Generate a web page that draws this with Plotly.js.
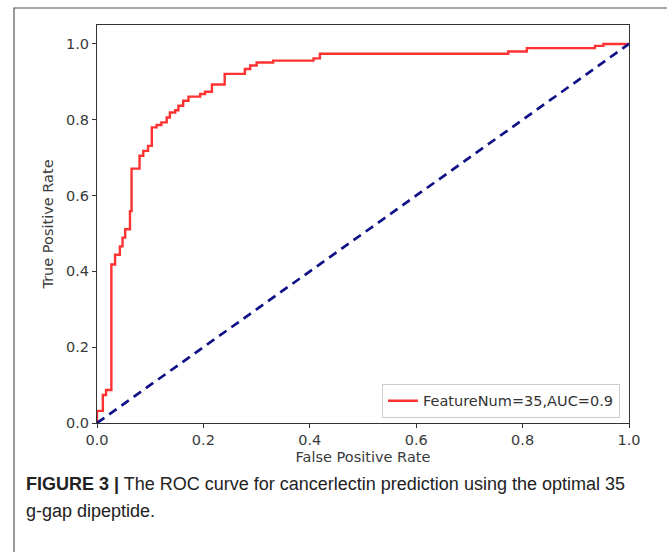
<!DOCTYPE html>
<html>
<head>
<meta charset="utf-8">
<script src="https://cdn.plot.ly/plotly-3.0.1.min.js"></script>
<style>
html,body{margin:0;padding:0;background:#fff;}
#chart{width:667px;height:552px;}
</style>
</head>
<body>
<div id="chart"></div>
<script>
// ROC curve corner points (False Positive Rate, True Positive Rate)
const fpr = [0,0,0.011,0.011,0.017,0.017,0.027,0.027,0.034,0.034,0.043,0.043,0.048,0.048,0.053,0.053,0.062,0.062,0.065,0.065,0.080,0.080,0.087,0.087,0.096,0.096,0.103,0.103,0.112,0.112,0.121,0.121,0.131,0.131,0.137,0.137,0.147,0.147,0.153,0.153,0.162,0.162,0.172,0.172,0.194,0.194,0.203,0.203,0.216,0.216,0.240,0.240,0.278,0.278,0.288,0.288,0.300,0.300,0.331,0.331,0.407,0.407,0.419,0.419,0.773,0.773,0.808,0.808,0.936,0.936,0.952,0.952,1.0];
const tpr = [0,0.032,0.032,0.074,0.074,0.087,0.087,0.418,0.418,0.444,0.444,0.466,0.466,0.489,0.489,0.511,0.511,0.559,0.559,0.671,0.671,0.705,0.705,0.718,0.718,0.731,0.731,0.780,0.780,0.786,0.786,0.793,0.793,0.806,0.806,0.819,0.819,0.825,0.825,0.837,0.837,0.850,0.850,0.861,0.861,0.868,0.868,0.874,0.874,0.893,0.893,0.921,0.921,0.934,0.934,0.943,0.943,0.951,0.951,0.956,0.956,0.962,0.962,0.974,0.974,0.980,0.980,0.989,0.989,0.995,0.995,1.0,1.0];
const chanceX = [0,1];
const chanceY = [0,1];
const seriesName = "FeatureNum=35,AUC=0.9";
const tickVals = [0,0.2,0.4,0.6,0.8,1.0];
const tickText = ["0.0","0.2","0.4","0.6","0.8","1.0"];
const xTitle = "False Positive Rate";
const yTitle = "True Positive Rate";
const captionBold = "FIGURE 3 |";
const captionLine1 = " The ROC curve for cancerlectin prediction using the optimal 35";
const captionLine2 = "g-gap dipeptide.";

const traces = [
  {x: fpr, y: tpr, mode: 'lines', name: seriesName,
   line: {color: 'rgb(255,50,50)', width: 2.4}},
  {x: chanceX, y: chanceY, mode: 'lines', showlegend: false,
   line: {color: 'rgb(16,16,135)', width: 2.7, dash: '9px,6px'}}
];

const axFont = {family: 'DejaVu Sans, sans-serif', size: 14.5, color: '#3a3a3a'};
const layout = {
  width: 667, height: 552,
  margin: {l: 97, r: 38, t: 25, b: 129, pad: 0},
  paper_bgcolor: '#fff', plot_bgcolor: '#fff',
  showlegend: true,
  xaxis: {range: [0, 1], tickvals: tickVals, ticktext: tickText,
    ticks: 'outside', ticklen: 4, tickcolor: '#333', showgrid: false, zeroline: false,
    showline: true, linecolor: '#333', linewidth: 1, mirror: true,
    tickfont: axFont, title: {text: xTitle, font: axFont, standoff: 4}},
  yaxis: {range: [0, 1.05], tickvals: tickVals, ticktext: tickText,
    ticks: 'outside', ticklen: 4, tickcolor: '#333', showgrid: false, zeroline: false,
    showline: true, linecolor: '#333', linewidth: 1, mirror: true,
    tickfont: axFont, title: {text: yTitle, font: axFont, standoff: 8}},
  legend: {x: 0.983, xanchor: 'right', y: 0.013, yanchor: 'bottom',
    bgcolor: 'rgba(255,255,255,0.9)', bordercolor: '#ccc', borderwidth: 1,
    font: {family: 'DejaVu Sans, sans-serif', size: 14.5, color: '#333'}},
  shapes: [
    {type: 'rect', xref: 'paper', yref: 'paper',
     x0: (14-97)/532, x1: (700-97)/532, y0: (423-580)/398, y1: (423-8)/398,
     line: {color: '#555', width: 1.2}, fillcolor: 'rgba(0,0,0,0)'}
  ],
  annotations: [
    {xref: 'paper', yref: 'paper', x: (24-97)/532, y: (423-484)/398,
     xanchor: 'left', yanchor: 'middle', showarrow: false, align: 'left',
     text: '<b>' + captionBold + '</b>' + captionLine1,
     font: {family: 'Liberation Sans Narrow, Liberation Sans, Arial, sans-serif', size: 18, color: '#222'}},
    {xref: 'paper', yref: 'paper', x: (24-97)/532, y: (423-511)/398,
     xanchor: 'left', yanchor: 'middle', showarrow: false, align: 'left',
     text: captionLine2,
     font: {family: 'Liberation Sans Narrow, Liberation Sans, Arial, sans-serif', size: 18, color: '#222'}}
  ]
};

Plotly.newPlot('chart', traces, layout, {displayModeBar: false, staticPlot: true});
</script>
</body>
</html>
